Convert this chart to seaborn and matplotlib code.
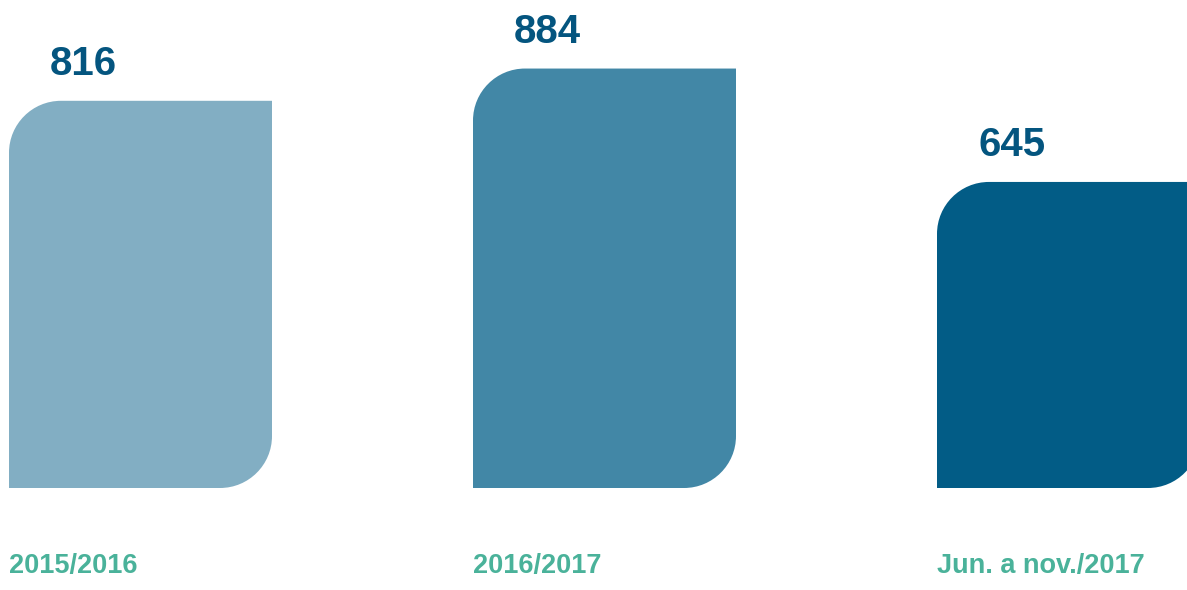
import numpy as np
import matplotlib
matplotlib.use("Agg")
import matplotlib.pyplot as plt
from matplotlib.path import Path
from matplotlib.patches import PathPatch
import seaborn as sns
import pandas as pd

categories = ["2015/2016", "2016/2017", "Jun. a nov./2017"]
values = [816, 884, 645]
bar_colors = ["#82AEC3", "#4287A6", "#025C86"]
value_color = "#04557F"
label_color = "#4AB29A"

sns.set_theme(style="white")
plt.rcParams['font.family'] = ['Liberation Sans', 'DejaVu Sans']

W, H = 1187, 590
fig = plt.figure(figsize=(W / 100, H / 100), dpi=100)
ax = fig.add_axes([0, 0, 1, 1])

df = pd.DataFrame({"cat": categories, "val": values})
px_x = 464.0          # pixels per x unit
px_y = 0.4745         # pixels per value unit
base_px = 102.0       # baseline pixel from bottom
bar_w = 263 / px_x
sns.barplot(data=df, x="cat", y="val", hue="cat", palette=bar_colors,
            width=bar_w, legend=False, ax=ax, saturation=1)

x_left = -140.5 / px_x
ax.set_xlim(x_left, x_left + W / px_x)
ax.set_ylim(-base_px / px_y, (H - base_px) / px_y)
ax.set_axis_off()

r_px = 52
rx = r_px / px_x
ry = r_px / px_y
k = 0.5523

for patch, val, col, cat in zip(list(ax.patches), values, bar_colors, categories):
    x0 = patch.get_x()
    x1 = x0 + patch.get_width()
    h = patch.get_height()
    patch.set_visible(False)
    verts = [
        (x0, 0), (x0, h - ry),
        (x0, h - ry + k * ry), (x0 + rx - k * rx, h), (x0 + rx, h),
        (x1, h), (x1, ry),
        (x1, ry - k * ry), (x1 - rx + k * rx, 0), (x1 - rx, 0),
        (x0, 0),
    ]
    codes = [Path.MOVETO, Path.LINETO,
             Path.CURVE4, Path.CURVE4, Path.CURVE4,
             Path.LINETO, Path.LINETO,
             Path.CURVE4, Path.CURVE4, Path.CURVE4,
             Path.CLOSEPOLY]
    ax.add_patch(PathPatch(Path(verts, codes), facecolor=col, edgecolor="none"))
    ax.text(x0 + 41 / px_x, h + 26 / px_y, f"{val}", ha="left", va="baseline",
            fontsize=29, fontweight="bold", color=value_color)
    ax.text(x0, -85 / px_y, cat, ha="left", va="baseline",
            fontsize=19.5, fontweight="bold", color=label_color)

fig.savefig("out.png", dpi=100)
